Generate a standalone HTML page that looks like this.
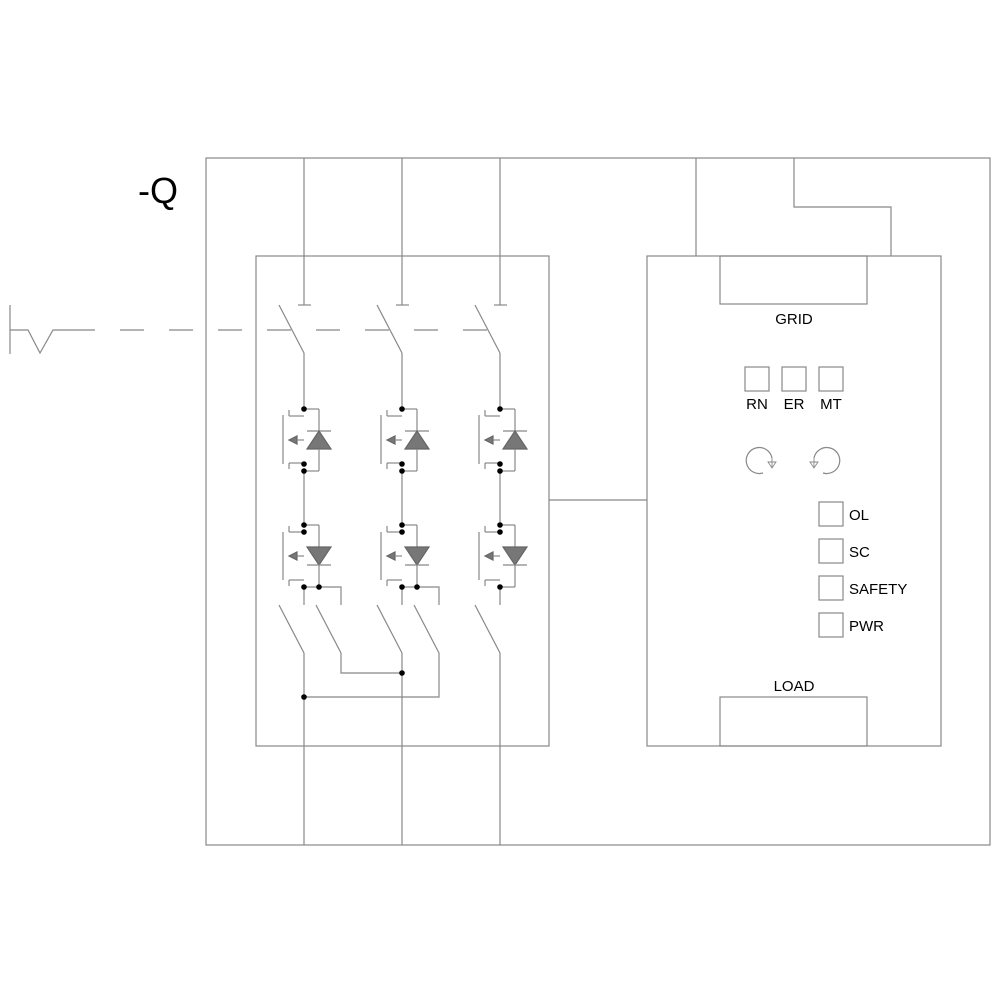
<!DOCTYPE html>
<html><head><style>body{margin:0;background:#fff}svg{display:block}</style></head>
<body>
<svg width="1000" height="1000" viewBox="0 0 1000 1000" xmlns="http://www.w3.org/2000/svg" font-family="Liberation Sans, sans-serif">
<defs>
<g id="hi">
  <line x1="0" y1="0" x2="15" y2="0"/><line x1="15" y1="0" x2="15" y2="22"/>
  <line x1="3" y1="22" x2="27" y2="22"/>
  <polygon points="15,22 3,40 27,40" fill="#777" stroke="#666"/>
  <line x1="15" y1="40" x2="15" y2="62"/><line x1="15" y1="62" x2="0" y2="62"/>
  <line x1="-21" y1="6" x2="-21" y2="55"/>
  <line x1="-15" y1="7" x2="0" y2="7"/><line x1="-15" y1="7" x2="-15" y2="1"/>
  <line x1="-15" y1="54" x2="0" y2="54"/><line x1="-15" y1="54" x2="-15" y2="60"/>
  <polygon points="-15,31 -7,27 -7,35" fill="#777" stroke="#666"/>
  <line x1="-7" y1="31" x2="0" y2="31"/>
  <circle cx="0" cy="0" r="2.8" fill="#000" stroke="none"/>
  <circle cx="0" cy="55" r="2.8" fill="#000" stroke="none"/>
  <circle cx="0" cy="62" r="2.8" fill="#000" stroke="none"/>
</g>
<g id="lo">
  <line x1="0" y1="0" x2="15" y2="0"/><line x1="15" y1="0" x2="15" y2="22"/>
  <polygon points="3,22 27,22 15,40" fill="#777" stroke="#666"/>
  <line x1="3" y1="40" x2="27" y2="40"/>
  <line x1="15" y1="40" x2="15" y2="62"/><line x1="15" y1="62" x2="0" y2="62"/>
  <line x1="-21" y1="7" x2="-21" y2="55"/>
  <line x1="-15" y1="7" x2="0" y2="7"/><line x1="-15" y1="7" x2="-15" y2="1"/>
  <line x1="-15" y1="55" x2="0" y2="55"/><line x1="-15" y1="55" x2="-15" y2="61"/>
  <polygon points="-15,31 -7,27 -7,35" fill="#777" stroke="#666"/>
  <line x1="-7" y1="31" x2="0" y2="31"/>
  <circle cx="0" cy="0" r="2.8" fill="#000" stroke="none"/>
  <circle cx="0" cy="7" r="2.8" fill="#000" stroke="none"/>
  <circle cx="0" cy="62" r="2.8" fill="#000" stroke="none"/>
</g>
</defs>
<g stroke="#888" stroke-width="1.2" fill="none">
<rect x="206" y="158" width="784" height="687"/>
<rect x="256" y="256" width="293" height="490" fill="#fff"/>
<rect x="647" y="256" width="294" height="490" fill="#fff"/>
<line x1="549" y1="500" x2="647" y2="500"/>
<polyline points="696,158 696,256"/>
<polyline points="794,158 794,207 891,207 891,256"/>
<rect x="720" y="256" width="147" height="48"/>
<rect x="720" y="697" width="147" height="49"/>
<rect x="745" y="367" width="24" height="24"/><rect x="782" y="367" width="24" height="24"/><rect x="819" y="367" width="24" height="24"/>
<rect x="819" y="502" width="24" height="24"/><rect x="819" y="539" width="24" height="24"/><rect x="819" y="576" width="24" height="24"/><rect x="819" y="613" width="24" height="24"/>
<path d="M763,473 A13,13 0 1 1 772,458"/><path d="M768,462 L776,462 L772,468 Z M772,458 L772,468" stroke-width="0.9"/>
<path d="M823,473 A13,13 0 1 0 814,458"/><path d="M810,462 L818,462 L814,468 Z M814,458 L814,468" stroke-width="0.9"/>
<!-- left symbol and dashed -->
<line x1="10" y1="305" x2="10" y2="354"/>
<polyline points="10,330 28,330 40,353 53,330 95,330"/>
<line x1="120" y1="330" x2="490" y2="330" stroke-dasharray="24,25"/>
<!-- phases -->
<g id="ph">
<line x1="304" y1="158" x2="304" y2="305"/><line x1="298" y1="305" x2="311" y2="305"/>
<line x1="279" y1="305" x2="304" y2="353"/>
<line x1="304" y1="353" x2="304" y2="409"/>
<line x1="304" y1="471" x2="304" y2="525"/>
<line x1="279" y1="605" x2="304" y2="653"/>
<line x1="304" y1="653" x2="304" y2="845"/>
<line x1="304" y1="587" x2="304" y2="605"/>
</g>
<use href="#ph" x="98"/><use href="#ph" x="196"/>
<use href="#hi" x="304" y="409"/><use href="#hi" x="402" y="409"/><use href="#hi" x="500" y="409"/>
<use href="#lo" x="304" y="525"/><use href="#lo" x="402" y="525"/><use href="#lo" x="500" y="525"/>
<polyline points="319,587 341,587 341,605"/>
<polyline points="417,587 439,587 439,605"/>
<polyline points="515,587 515,587"/>
<polyline points="316,605 341,653 341,673 402,673"/>
<polyline points="414,605 439,653 439,697 304,697"/>
</g>
<g fill="#000">
<circle cx="319" cy="587" r="2.8"/><circle cx="417" cy="587" r="2.8"/>
<circle cx="402" cy="673" r="2.8"/><circle cx="304" cy="697" r="2.8"/>
</g>
<!-- cover extra dot in col3 lower source -->
<g font-size="15" fill="#000">
<text x="138" y="203" font-size="36">-Q</text>
<text x="794" y="324" text-anchor="middle">GRID</text>
<text x="794" y="691" text-anchor="middle">LOAD</text>
<text x="757" y="409" text-anchor="middle">RN</text>
<text x="794" y="409" text-anchor="middle">ER</text>
<text x="831" y="409" text-anchor="middle">MT</text>
<text x="849" y="520">OL</text>
<text x="849" y="557">SC</text>
<text x="849" y="594">SAFETY</text>
<text x="849" y="631">PWR</text>
</g>
</svg>
</body></html>
